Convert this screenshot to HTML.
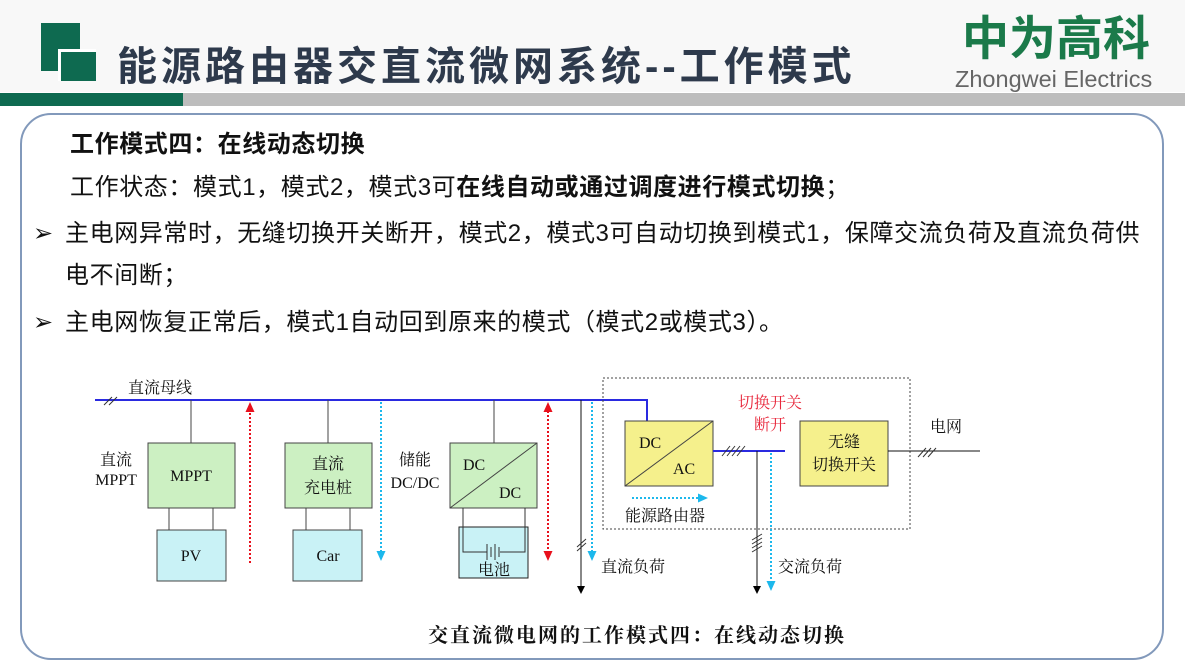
<!DOCTYPE html>
<html><head><meta charset="utf-8"><style>
html,body{margin:0;padding:0;background:#fff;}
svg{display:block;}
.t{font-family:"Liberation Sans","Noto Sans CJK SC",sans-serif;}
.s{font-family:"Liberation Serif","Noto Serif CJK SC",serif;}
</style></head><body>
<svg width="1185" height="667" viewBox="0 0 1185 667" xmlns="http://www.w3.org/2000/svg">
<defs>
<marker id="ab" markerUnits="userSpaceOnUse" markerWidth="8" markerHeight="8" refX="4" refY="4" orient="auto"><path d="M0,0 L8,4 L0,8 z" fill="#000"/></marker>
<marker id="ar" markerUnits="userSpaceOnUse" markerWidth="10" markerHeight="10" refX="5" refY="5" orient="auto-start-reverse"><path d="M0,0.5 L10,5 L0,9.5 z" fill="#e8101c"/></marker>
<marker id="ac" markerUnits="userSpaceOnUse" markerWidth="10" markerHeight="10" refX="5" refY="5" orient="auto"><path d="M0,0.5 L10,5 L0,9.5 z" fill="#1cb8ec"/></marker>
</defs>
<rect width="1185" height="667" fill="#fff"/>
<rect x="0" y="0" width="1185" height="92" fill="#f8f8f8"/>
<!-- header -->
<rect x="41" y="23" width="39" height="48" fill="#0e6a50"/>
<rect x="58" y="49" width="38" height="32" fill="#fff"/>
<rect x="61" y="52" width="35" height="29" fill="#0e6a50"/>
<text x="117" y="80" class="t" font-size="40" font-weight="bold" fill="#2e3a4c" letter-spacing="4">能源路由器交直流微网系统--工作模式</text>
<text x="962" y="55" class="t" font-size="47" font-weight="bold" fill="#1b7a4a">中为高科</text>
<text x="955" y="87" class="t" font-size="23.5" fill="#666">Zhongwei Electrics</text>
<rect x="0" y="93" width="1185" height="13" fill="#bdbdbd"/>
<rect x="0" y="93" width="183" height="13" fill="#0e6a50"/>
<!-- content box -->
<rect x="21" y="114" width="1142" height="545" rx="30" fill="#fff" stroke="#8299bb" stroke-width="2"/>
<g class="t" font-size="24" fill="#111" letter-spacing="0.6">
<text x="70" y="152" font-weight="bold">工作模式四：在线动态切换</text>
<text x="70" y="195">工作状态：模式1，模式2，模式3可<tspan font-weight="bold">在线自动或通过调度进行模式切换</tspan>；</text>
<text x="33" y="241">➢</text>
<text x="65" y="241">主电网异常时，无缝切换开关断开，模式2，模式3可自动切换到模式1，保障交流负荷及直流负荷供</text>
<text x="65" y="283">电不间断；</text>
<text x="33" y="330">➢</text>
<text x="65" y="330">主电网恢复正常后，模式1自动回到原来的模式（模式2或模式3）。</text>
</g>
<!-- diagram -->
<g class="s" font-size="16" fill="#111">
<text x="128" y="393">直流母线</text>
<path d="M95,400 H647 V421" stroke="#2a2ae0" stroke-width="2" fill="none"/>
<path d="M104,405 L112,397 M109,405 L117,397" stroke="#333" stroke-width="1"/>
<line x1="191" y1="400" x2="191" y2="443" stroke="#444"/>
<path d="M187,443 L191,450 L195,443" fill="none" stroke="#444"/>
<rect x="148" y="443" width="87" height="65" fill="#ccf0c2" stroke="#444"/>
<text x="191" y="481" text-anchor="middle">MPPT</text>
<text x="116" y="465" text-anchor="middle">直流</text>
<text x="116" y="485" text-anchor="middle">MPPT</text>
<line x1="169" y1="508" x2="169" y2="530" stroke="#444"/><line x1="213" y1="508" x2="213" y2="530" stroke="#444"/>
<rect x="157" y="530" width="69" height="51" fill="#c9f2f6" stroke="#444"/>
<text x="191" y="561" text-anchor="middle">PV</text>
<line x1="250" y1="563" x2="250" y2="407" stroke="#e8101c" stroke-width="2" stroke-dasharray="2,2" marker-end="url(#ar)"/>
<line x1="328" y1="400" x2="328" y2="443" stroke="#444"/>
<rect x="285" y="443" width="87" height="65" fill="#ccf0c2" stroke="#444"/>
<text x="328" y="469" text-anchor="middle">直流</text>
<text x="328" y="493" text-anchor="middle">充电桩</text>
<line x1="306" y1="508" x2="306" y2="530" stroke="#444"/><line x1="350" y1="508" x2="350" y2="530" stroke="#444"/>
<rect x="293" y="530" width="69" height="51" fill="#c9f2f6" stroke="#444"/>
<text x="328" y="561" text-anchor="middle">Car</text>
<line x1="381" y1="402" x2="381" y2="556" stroke="#1cb8ec" stroke-width="2" stroke-dasharray="2,2" marker-end="url(#ac)"/>
<text x="415" y="465" text-anchor="middle">储能</text>
<text x="415" y="488" text-anchor="middle">DC/DC</text>
<line x1="494" y1="400" x2="494" y2="443" stroke="#444"/>
<rect x="450" y="443" width="87" height="65" fill="#ccf0c2" stroke="#444"/>
<line x1="450" y1="508" x2="537" y2="443" stroke="#444"/>
<text x="463" y="470">DC</text>
<text x="499" y="498">DC</text>
<rect x="459" y="527" width="69" height="51" fill="#c9f2f6" stroke="#222"/>
<path d="M463,508 V552 H487 M500,552 H525 V508" stroke="#333" fill="none"/>
<path d="M487,544 V560 M491,547 V557 M495,544 V560 M499,547 V557" stroke="#333"/>
<text x="494" y="575" text-anchor="middle">电池</text>
<line x1="548" y1="407" x2="548" y2="556" stroke="#e8101c" stroke-width="2" stroke-dasharray="2,2" marker-start="url(#ar)" marker-end="url(#ar)"/>
<line x1="581" y1="400" x2="581" y2="590" stroke="#111" marker-end="url(#ab)"/>
<path d="M577,547 L586,539 M577,551 L586,543" stroke="#333"/>
<line x1="592" y1="402" x2="592" y2="556" stroke="#1cb8ec" stroke-width="2" stroke-dasharray="2,2" marker-end="url(#ac)"/>
<text x="601" y="572">直流负荷</text>
<rect x="603" y="378" width="307" height="151" fill="none" stroke="#444" stroke-dasharray="2,2"/>
<rect x="625" y="421" width="88" height="65" fill="#f5f08c" stroke="#444"/>
<line x1="625" y1="486" x2="713" y2="421" stroke="#444"/>
<text x="639" y="448">DC</text>
<text x="673" y="474">AC</text>
<line x1="713" y1="451" x2="785" y2="451" stroke="#2a2ae0" stroke-width="2"/>
<path d="M722,456 L730,446 M727,456 L735,446 M732,456 L740,446 M737,456 L745,446" stroke="#333"/>
<text x="770" y="408" text-anchor="middle" fill="#e8283c">切换开关</text>
<text x="770" y="430" text-anchor="middle" fill="#e8283c">断开</text>
<line x1="757" y1="451" x2="757" y2="590" stroke="#111" marker-end="url(#ab)"/>
<path d="M752,540 L762,534 M752,544 L762,538 M752,548 L762,542 M752,552 L762,546" stroke="#333"/>
<line x1="771" y1="453" x2="771" y2="586" stroke="#1cb8ec" stroke-width="2" stroke-dasharray="2,2" marker-end="url(#ac)"/>
<text x="778" y="572">交流负荷</text>
<rect x="800" y="421" width="88" height="65" fill="#f5f08c" stroke="#444"/>
<text x="844" y="447" text-anchor="middle">无缝</text>
<text x="844" y="470" text-anchor="middle">切换开关</text>
<line x1="888" y1="451" x2="980" y2="451" stroke="#111"/>
<path d="M918,457 L926,448 M923,457 L931,448 M928,457 L936,448" stroke="#333"/>
<text x="930" y="432">电网</text>
<line x1="632" y1="498" x2="703" y2="498" stroke="#1cb8ec" stroke-width="2" stroke-dasharray="2,2" marker-end="url(#ac)"/>
<text x="625" y="521">能源路由器</text>
<text x="637" y="642" text-anchor="middle" font-size="20" font-weight="bold" letter-spacing="2">交直流微电网的工作模式四：在线动态切换</text>
</g>
</svg>
</body></html>
